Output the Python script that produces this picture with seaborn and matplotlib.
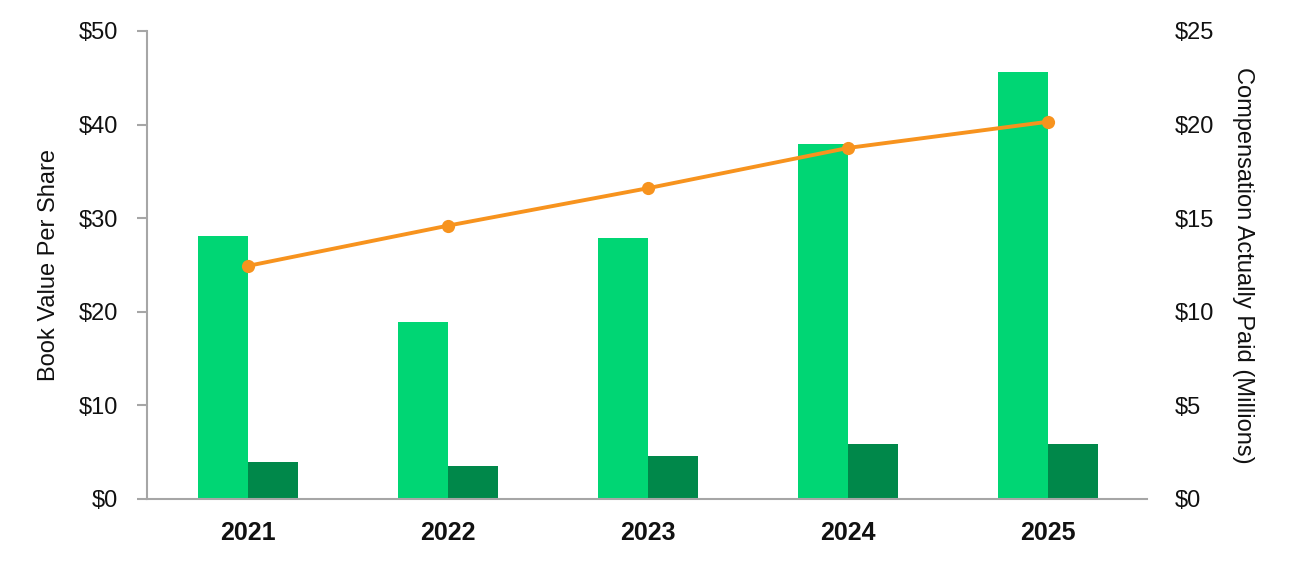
import numpy as np
import pandas as pd
import matplotlib
matplotlib.use("Agg")
import matplotlib.pyplot as plt
import seaborn as sns
from matplotlib.ticker import FuncFormatter

years = ["2021", "2022", "2023", "2024", "2025"]
cap_peo = [14.05, 9.45, 13.95, 18.95, 22.8]      # millions, right axis
cap_non_peo = [1.98, 1.76, 2.3, 2.94, 2.94]      # millions, right axis
book_value = [24.9, 29.2, 33.2, 37.5, 40.3]      # $ per share, left axis

sns.set_theme(style="white")
plt.rcParams['font.family'] = ['Liberation Sans', 'DejaVu Sans']

light = "#00D674"
dark = "#00884A"
orange = "#F7931E"
grey = "#A6A6A6"

fig = plt.figure(figsize=(12.94, 5.76), dpi=100)
ax = fig.add_axes([0.1136, 0.1337, 0.7728, 0.8126])
ax2 = ax.twinx()

df = pd.DataFrame({
    "year": years * 2,
    "value": cap_peo + cap_non_peo,
    "series": ["PEO"] * len(years) + ["Non-PEO"] * len(years),
})
sns.barplot(data=df, x="year", y="value", hue="series", order=years,
            hue_order=["PEO", "Non-PEO"], palette=[light, dark],
            width=0.5, gap=0, saturation=1, ax=ax2, legend=False,
            linewidth=0, errorbar=None)

sns.lineplot(x=np.arange(len(years)), y=book_value, ax=ax, color=orange,
             linewidth=2.8, marker="o", markersize=9.5, markeredgewidth=0)

ax.set_zorder(ax2.get_zorder() + 1)
ax.patch.set_visible(False)

ax.set_xlim(-0.505, 4.495)
ax.set_ylim(0, 50)
ax2.set_ylim(0, 25)
ax.set_yticks([0, 10, 20, 30, 40, 50])
ax2.set_yticks([0, 5, 10, 15, 20, 25])
ax.yaxis.set_major_formatter(FuncFormatter(lambda v, p: f"${v:.0f}"))
ax2.yaxis.set_major_formatter(FuncFormatter(lambda v, p: f"${v:.0f}"))

ax.set_xticks(np.arange(len(years)))
ax.set_xticklabels(years, fontsize=18, fontweight="bold")
ax2.set_xlabel("")
ax.set_xlabel("")

for a in (ax, ax2):
    for s in a.spines.values():
        s.set_visible(False)
ax.spines["left"].set_visible(True)
ax.spines["bottom"].set_visible(True)
ax.spines["left"].set_color(grey)
ax.spines["bottom"].set_color(grey)
ax.spines["left"].set_linewidth(1.5)
ax.spines["bottom"].set_linewidth(1.5)

ax.tick_params(axis="y", which="major", left=True, length=7, width=1.5,
               color=grey, pad=14, labelsize=17, labelcolor="#111111")
ax.tick_params(axis="x", bottom=False, length=0, pad=16, labelcolor="#111111")
ax2.tick_params(axis="y", right=False, length=0, pad=20, labelsize=17,
                labelcolor="#111111")
ax2.tick_params(axis="x", bottom=False, labelbottom=False)

ax.set_ylabel("Book Value Per Share", fontsize=17, color="#111111", labelpad=13)
ax2.set_ylabel("Compensation Actually Paid (Millions)", fontsize=17,
               color="#111111", rotation=270, labelpad=29)
ax.grid(False)
ax2.grid(False)

fig.savefig("out.png", dpi=100, facecolor="white")
